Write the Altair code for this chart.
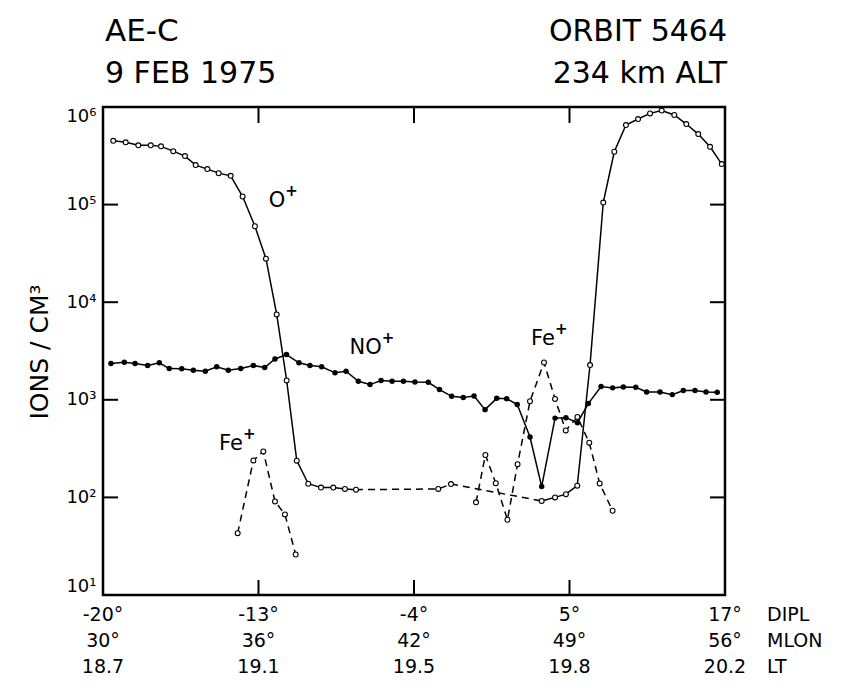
import altair as alt
import pandas as pd

# ---------------- data ----------------
# x position in units of the bottom tick marks (0 = first tick, 4 = last tick)
oplus_t = [0.066, 0.146, 0.227, 0.307, 0.373, 0.452, 0.527, 0.596, 0.671, 0.744,
           0.821, 0.898, 0.977, 1.048, 1.117, 1.181, 1.246, 1.320, 1.402, 1.481,
           1.556, 1.627, 2.156, 2.238, 2.821, 2.907, 2.977, 3.050, 3.132, 3.217,
           3.288, 3.363, 3.441, 3.518, 3.593, 3.674, 3.751, 3.828, 3.904, 3.979]
oplus_v = [4.5e5, 4.35e5, 4.05e5, 4.05e5, 3.95e5, 3.53e5, 3.14e5, 2.54e5, 2.31e5, 2.10e5,
           1.97e5, 1.21e5, 6.0e4, 2.79e4, 7.5e3, 1.58e3, 238, 138, 126, 126,
           122, 120, 122, 137, 92, 100, 108, 132, 2270, 1.05e5,
           3.48e5, 6.53e5, 7.53e5, 8.6e5, 9.2e5, 8.28e5, 6.69e5, 5.28e5, 3.91e5, 2.6e5]
# O+ points joined by a dashed line (first and last index of the gap)
oplus_gap = (21, 24)

noplus_t = [0.051, 0.137, 0.206, 0.287, 0.362, 0.426, 0.506, 0.581, 0.658, 0.731,
            0.806, 0.886, 0.967, 1.040, 1.106, 1.180, 1.260, 1.331, 1.406, 1.492,
            1.563, 1.642, 1.717, 1.788, 1.859, 1.932, 2.006, 2.092, 2.164, 2.242,
            2.317, 2.386, 2.457, 2.532, 2.596, 2.664, 2.746, 2.821, 2.907, 2.977,
            3.051, 3.121, 3.203, 3.277, 3.346, 3.426, 3.496, 3.582, 3.661, 3.732,
            3.807, 3.878, 3.950]
noplus_v = [2355, 2427, 2355, 2245, 2393, 2089, 2075, 2009, 1962, 2178,
            2009, 2089, 2245, 2141, 2618, 2911, 2393, 2245, 2178, 1890,
            1962, 1549, 1432, 1574, 1549, 1549, 1520, 1512, 1274, 1086,
            1054, 1092, 793, 1035, 1028, 893, 416, 129, 649, 656,
            583, 914, 1367, 1325, 1355, 1343, 1205, 1205, 1130, 1242,
            1242, 1205, 1194]

fe1_t = [0.866, 0.967, 1.031, 1.106, 1.170, 1.239]
fe1_v = [43, 239, 296, 91, 67, 26]

fe2_t = [2.399, 2.459, 2.526, 2.601, 2.666, 2.746, 2.836, 2.907, 2.976, 3.051,
         3.127, 3.194, 3.277]
fe2_v = [89, 272, 140, 59, 219, 966, 2410, 1021, 486, 667, 364, 139, 73]

tick_pos = [0, 1, 2, 3, 4]
dipl_labels = ["-20°", "-13°", "-4°", "5°", "17°"]
mlon_labels = ["30°", "36°", "42°", "49°", "56°"]
lt_labels = ["18.7", "19.1", "19.5", "19.8", "20.2"]
row_names = ["DIPL", "MLON", "LT"]

y_decades = [10, 100, 1000, 10000, 100000, 1000000]

ann_base = ["O", "NO", "Fe", "Fe"]
ann_t = [1.172, 1.793, 0.900, 2.906]
ann_v = [1.1e5, 3.4e3, 355, 4.2e3]

# ---------------- layout ----------------
W, H = 622, 488
FONT = "DejaVu Sans"
TICK_PX = 15  # inward tick length in pixels

# ---------------- build tables ----------------
solid_rows, dashed_rows = [], []
def add(target, seg, ts, vs):
    for t, v in zip(ts, vs):
        target.append({"seg": seg, "t": t, "v": v})

g0, g1 = oplus_gap
add(solid_rows, "O1", oplus_t[:g0 + 1], oplus_v[:g0 + 1])
add(dashed_rows, "O2", oplus_t[g0:g1 + 1], oplus_v[g0:g1 + 1])
add(solid_rows, "O3", oplus_t[g1:], oplus_v[g1:])
add(solid_rows, "NO", noplus_t, noplus_v)
add(dashed_rows, "Fe1", fe1_t, fe1_v)
add(dashed_rows, "Fe2", fe2_t, fe2_v)
solid_df = pd.DataFrame(solid_rows)
dashed_df = pd.DataFrame(dashed_rows)

oplus_df = pd.DataFrame({"t": oplus_t, "v": oplus_v})
noplus_df = pd.DataFrame({"t": noplus_t, "v": noplus_v})
fe_df = pd.DataFrame({"t": fe1_t + fe2_t, "v": fe1_v + fe2_v})
ticks_df = pd.DataFrame({"t": tick_pos, "dipl": dipl_labels, "mlon": mlon_labels, "lt": lt_labels})
ann_df = pd.DataFrame({"t": ann_t, "v": ann_v, "txt": ann_base, "plus": ["+"] * len(ann_base)})
ydec_df = pd.DataFrame({"yv": [float(v) for v in y_decades[1:-1]]})
xtick_df = pd.DataFrame({"xt": [float(t) for t in tick_pos[1:-1]]})

xscale = alt.Scale(domain=[0, 4], nice=False, zero=False)
yscale = alt.Scale(type="log", domain=[10, 1e6], nice=False)

sup = "['⁰','¹','²','³','⁴','⁵','⁶']"
yaxis = alt.Axis(values=y_decades,
                 labelExpr="'10' + " + sup + "[round(log(datum.value)/LN10)]",
                 ticks=False, domain=False, grid=False, title=None,
                 labelFont=FONT, labelFontSize=18, labelColor="black",
                 labelPadding=7, labelFlush=True)

X = alt.X("t:Q", scale=xscale, axis=None)
Y = alt.Y("v:Q", scale=yscale, axis=yaxis)
XT = alt.X("xt:Q", scale=xscale, axis=None)
YT = alt.Y("yv:Q", scale=yscale, axis=yaxis)

TICK_COLOR = "#000000"
ytick_l = alt.Chart(ydec_df).mark_rule(stroke=TICK_COLOR, strokeWidth=2).encode(
    y=YT, x=alt.value(0), x2=alt.value(TICK_PX))
ytick_r = alt.Chart(ydec_df).mark_rule(stroke=TICK_COLOR, strokeWidth=2).encode(
    y=YT, x=alt.value(W - TICK_PX), x2=alt.value(W))
xtick_b = alt.Chart(xtick_df).mark_rule(stroke=TICK_COLOR, strokeWidth=2).encode(
    x=XT, y=alt.value(H - TICK_PX), y2=alt.value(H))
xtick_t = alt.Chart(xtick_df).mark_rule(stroke=TICK_COLOR, strokeWidth=2).encode(
    x=XT, y=alt.value(0), y2=alt.value(TICK_PX + 1))

solid = alt.Chart(solid_df).mark_line(color="black", strokeWidth=1.5).encode(
    x=X, y=Y, detail="seg:N")
dashed = alt.Chart(dashed_df).mark_line(color="black", strokeWidth=1.5, strokeDash=[7, 5]).encode(
    x=X, y=Y, detail="seg:N")

open_pts = alt.Chart(pd.concat([oplus_df, fe_df], ignore_index=True)).mark_point(
    shape="circle", filled=True, fill="white", stroke="black", strokeWidth=1.1,
    size=24, opacity=1).encode(x=X, y=Y)

filled_pts = alt.Chart(noplus_df).mark_circle(color="black", size=30, opacity=1).encode(x=X, y=Y)

ann = alt.Chart(ann_df).mark_text(font=FONT, fontSize=21, color="black", align="right",
                                  baseline="middle").encode(x=X, y=Y, text="txt:N")
ann_plus = alt.Chart(ann_df).mark_text(font=FONT, fontSize=15, fontWeight="bold", color="black",
                                       align="left", baseline="middle", dy=-10).encode(
    x=X, y=Y, text="plus:N")

# three rows of x labels
row_y = [508, 534, 560]
xl = []
for col, yy in zip(["dipl", "mlon", "lt"], row_y):
    xl.append(alt.Chart(ticks_df).mark_text(font=FONT, fontSize=19, color="black",
                                            align="center", baseline="middle").encode(
        x=X, y=alt.value(yy), text=f"{col}:N"))

def label(txt, x, y, **kw):
    return alt.Chart(pd.DataFrame({"s": [txt]})).mark_text(font=FONT, color="black", **kw).encode(
        x=alt.value(x), y=alt.value(y), text="s:N")

row_labels = [label(n, 664, yy, fontSize=19, align="left", baseline="middle")
              for n, yy in zip(row_names, row_y)]

headers = [
    label("AE-C", 2, -75, fontSize=31, align="left", baseline="middle"),
    label("9 FEB 1975", 2, -33, fontSize=30, align="left", baseline="middle"),
    label("ORBIT 5464", W + 2, -75, fontSize=30, align="right", baseline="middle"),
    label("234 km ALT", W + 2, -33, fontSize=30, align="right", baseline="middle"),
    label("IONS / CM³", -63, 245, fontSize=25, align="center", baseline="middle", angle=270),
]

chart = alt.layer(
    solid, dashed, open_pts, filled_pts, ann, ann_plus,
    *xl, *row_labels, *headers,
    ytick_l, ytick_r, xtick_b, xtick_t,
).properties(
    width=W, height=H,
    padding={"left": 103, "top": 107, "right": 119, "bottom": 93},
    autosize=alt.AutoSizeParams(type="none"),
).configure_view(stroke="black", strokeWidth=2.5)

chart.save("out.html", embed_options={"renderer": "svg", "actions": False})
